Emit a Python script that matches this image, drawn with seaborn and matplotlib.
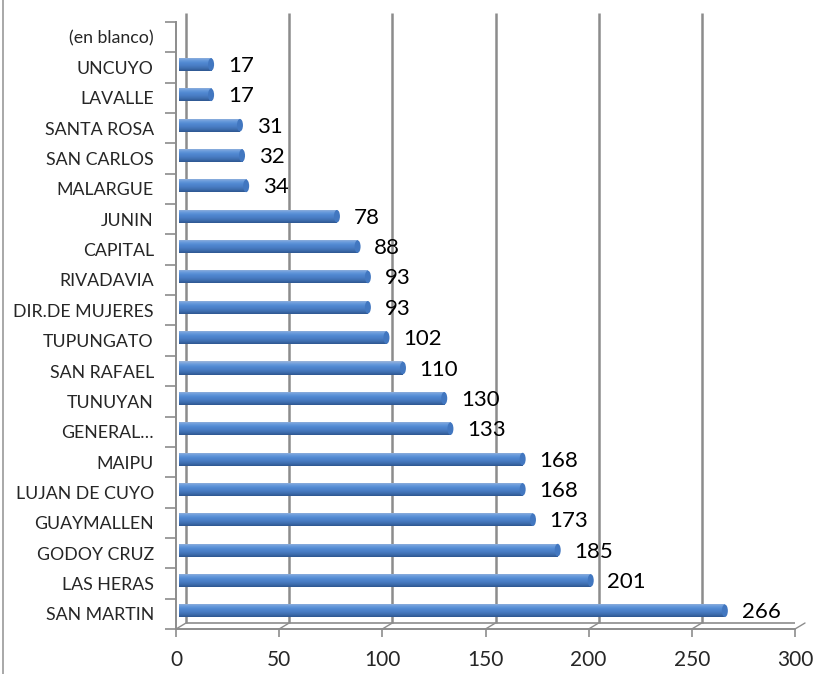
import numpy as np
import pandas as pd
import matplotlib
matplotlib.use("Agg")
import matplotlib.pyplot as plt
from matplotlib.patches import Ellipse
from matplotlib.lines import Line2D
from matplotlib.colors import LinearSegmentedColormap
from matplotlib.transforms import ScaledTranslation
import seaborn as sns

# categories listed top to bottom, as in the reference
categories = [
    "(en blanco)", "UNCUYO", "LAVALLE", "SANTA ROSA", "SAN CARLOS",
    "MALARGUE", "JUNIN", "CAPITAL", "RIVADAVIA", "DIR.DE MUJERES",
    "TUPUNGATO", "SAN RAFAEL", "TUNUYAN", "GENERAL…", "MAIPU",
    "LUJAN DE CUYO", "GUAYMALLEN", "GODOY CRUZ", "LAS HERAS", "SAN MARTIN",
]
counts = [np.nan, 17, 17, 31, 32, 34, 78, 88, 93, 93,
          102, 110, 130, 133, 168, 168, 173, 185, 201, 266]
x_ticks = [0, 50, 100, 150, 200, 250, 300]

sns.set_theme(style="white")
plt.rcParams["font.family"] = ["Lato", "DejaVu Sans"]

GRID = "#8C8C8C"
AXIS = "#8C8C8C"
DX = 10 / 100     # depth offset of the back wall, inches

df = pd.DataFrame({"dept": categories, "n": counts})

fig = plt.figure(figsize=(8.17, 6.74), dpi=100)
# axes box: front x axis at y=629 px, top of back wall at y=13 px
ax = fig.add_axes([176 / 817, 1 - 629 / 674, (795 - 176) / 817, (629 - 13) / 674])

n = len(categories)
slot_px = (629 - 22) / n                 # front axis starts at y=22 px
slot_top = -0.5 - (22 - 13) / slot_px

sns.barplot(data=df, x="n", y="dept", order=categories, orient="h",
            color="#4A7EC6", saturation=1, width=0.43,
            edgecolor="none", linewidth=0, ax=ax)
# seaborn sets its own category limits, so override them afterwards
ax.set_xlim(0, 300)
ax.set_ylim(n - 0.5, slot_top)

# cylinder-like shading: vertical gradient clipped to each bar, rounded end cap
cyl = LinearSegmentedColormap.from_list(
    "cyl", ["#9DB5DA", "#6C9DDD", "#5189D2", "#4A7EC6", "#3F6FB0", "#2E5791"])
grad = np.linspace(0, 1, 64).reshape(-1, 1)
px_per_unit = (795 - 176) / 300
for p in list(ax.patches):
    w = p.get_width()
    if not np.isfinite(w) or w == 0:
        continue
    h = p.get_height()
    y0 = p.get_y() - 0.1          # bars sit slightly up, on the back plane
    x0 = p.get_x() + 3 / px_per_unit
    p.set_y(y0)
    p.set_x(x0)
    p.set_width(w - x0)
    im = ax.imshow(grad, cmap=cyl, aspect="auto", interpolation="bilinear",
                   extent=(x0, w, y0 + h, y0), zorder=2)
    im.set_clip_path(p)
    cap = Ellipse((w, y0 + h / 2), 6 / px_per_unit, h * 0.96, facecolor="#4277C0",
                  edgecolor="none", zorder=3)
    ax.add_patch(cap)
    ax.annotate(f"{int(round(w))}", (w, y0 + h / 2 + 0.05), xytext=(12, 0),
                textcoords="offset points", va="center", ha="left",
                fontsize=16, color="black")
ax.set_xlim(0, 300)
ax.set_ylim(n - 0.5, slot_top)

# back wall grid lines, shifted right to mimic the 3D depth
back = ax.get_xaxis_transform() + ScaledTranslation(DX, 0, fig.dpi_scale_trans)
front = ax.get_xaxis_transform()
floor_frac = (629 - 623) / (629 - 13)
ax.vlines(x_ticks, floor_frac, 1, transform=back, color=GRID, linewidth=1.8, zorder=0)
ax.hlines(floor_frac, 0, 300, transform=back, color=GRID, linewidth=1.2, zorder=0)
for t in x_ticks:
    ax.annotate("", xy=(t, floor_frac), xycoords=back, xytext=(t, 0), textcoords=front,
                arrowprops=dict(arrowstyle="-", color=GRID, lw=1.0,
                                shrinkA=0, shrinkB=0))

ax.set_xticks(x_ticks)
ax.set_xticklabels([str(t) for t in x_ticks], fontsize=15)
ax.set_yticks(range(n))
ax.set_yticklabels(categories, fontsize=12.8)
ax.set_yticks(np.arange(-0.5, n, 1), minor=True)
ax.tick_params(axis="y", which="major", length=0, pad=16)
ax.tick_params(axis="y", which="minor", length=8, width=1.2, color=AXIS, left=True)
ax.tick_params(axis="x", length=6, width=1.2, color=AXIS, bottom=True, pad=9)
ax.grid(False)

for s in ["top", "right"]:
    ax.spines[s].set_visible(False)
for s in ["left", "bottom"]:
    ax.spines[s].set_color(AXIS)
    ax.spines[s].set_linewidth(1.4)
ax.spines["left"].set_bounds(n - 0.5, -0.5)
ax.set_xlabel("")
ax.set_ylabel("")

# chart-area border on the far left
fig.add_artist(Line2D([3 / 817, 3 / 817], [0, 1], color="#999999", linewidth=1.2,
                      transform=fig.transFigure))

fig.savefig("out.png", dpi=100)
